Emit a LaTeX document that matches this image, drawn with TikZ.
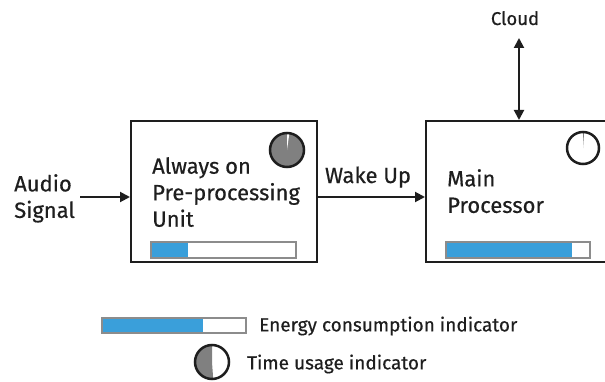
\documentclass[tikz,border=0pt]{standalone}
\usepackage{fontspec}
\setmainfont{Fira Sans}[FakeBold=0.5]
\usetikzlibrary{arrows.meta,positioning}
\definecolor{energy}{HTML}{3A9FDA}
\definecolor{bargray}{HTML}{8C8C8C}
\definecolor{ink}{HTML}{1E1E1E}
\definecolor{dial}{HTML}{808080}
\tikzset{unit/.style={draw=ink,line width=2pt,minimum width=186pt,minimum height=141pt},
  txt/.style={text=ink,font=\fontsize{22}{26.5}\selectfont,align=left,inner sep=0pt},
  sig/.style={draw=ink,line width=2pt,-{Triangle[length=10pt,width=10pt]}},
  bar/.style={draw=bargray,line width=2pt,fill=white},
  dialc/.style={draw=ink,line width=2.5pt}}

\begin{document}
\begin{tikzpicture}[x=1pt,y=1pt]
\useasboundingbox (0,0) rectangle (605,381);
\clip (0,0) rectangle (605,381);
% blocks
\node[unit] (pre) at (224,189.5) {};
\node[unit,minimum width=194pt] (main) at (523,189.5) {};
\node[txt,anchor=north west] (pretxt) at (152,224) {Always on\\Pre-processing\\Unit};
\node[txt,anchor=north west] (maintxt) at (447,212) {Main\\Processor};
\node[txt,anchor=north west] (audio) at (14,207) {Audio\\Signal};
\node[txt,anchor=base] (wake) at (368,198) {Wake Up};
\node[txt,anchor=base,font=\fontsize{18.5}{22}\selectfont] (cloud) at (515,356) {Cloud};
% connectors
\coordinate (in) at (80,184);
\coordinate (up) at (519,343);
\draw[sig] (in) -- (in -| pre.west);
\draw[sig] (pre.east |- in) -- (main.west |- in);
\draw[sig,{Triangle[length=10pt,width=10pt]}-{Triangle[length=10pt,width=10pt]}] (up) -- (up |- main.north);
% energy bars
\draw[bar] (151,123) rectangle (296,139);
\fill[energy] (152,124) rectangle (188,138);
\draw[bar] (446,123) rectangle (590,139);
\fill[energy] (447,124) rectangle (572,138);
\draw[bar] (102,48) rectangle (246,63);
\fill[energy] (103,49) rectangle (203,62);
% time dials
\fill[dial] (287,231) circle[radius=17pt];
\fill[white] (287,231) -- (287,248) arc[start angle=90,end angle=82,radius=17pt] -- cycle;
\draw[dialc] (287,231) circle[radius=17pt];
\fill[white] (583,233) circle[radius=16pt];
\fill[dial] (583,233) -- (583,249) arc[start angle=90,end angle=86,radius=16pt] -- cycle;
\draw[dialc] (583,233) circle[radius=16pt];
\fill[white] (212,19) circle[radius=17pt];
\fill[dial] (212,19) -- (212,36) arc[start angle=90,end angle=274,radius=17pt] -- cycle;
\draw[dialc] (212,19) circle[radius=17pt];
% legend
\node[txt,anchor=west,font=\fontsize{19}{22}\selectfont] (elegend) at (259,55) {Energy consumption indicator};
\node[txt,anchor=west,font=\fontsize{19}{22}\selectfont] (tlegend) at (247,17) {Time usage indicator};
\end{tikzpicture}
\end{document}
